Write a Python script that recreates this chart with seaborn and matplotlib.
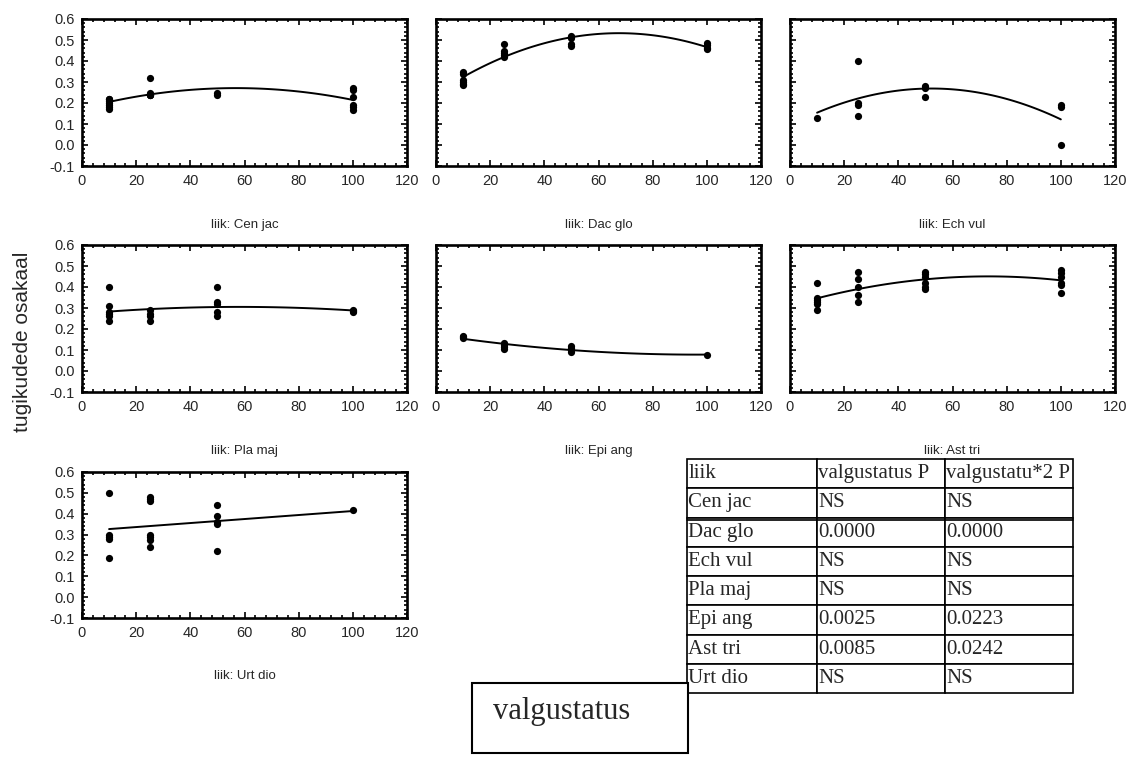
import numpy as np
import pandas as pd
import matplotlib
matplotlib.use("Agg")
import matplotlib.pyplot as plt
import seaborn as sns
from matplotlib.ticker import MultipleLocator, FormatStrFormatter
from matplotlib.patches import Rectangle

# ---------------- data ----------------
species = ["Cen jac", "Dac glo", "Ech vul", "Pla maj", "Epi ang", "Ast tri", "Urt dio"]
fit_order = [2, 2, 2, 2, 2, 2, 1]

cen_jac_x = [10, 10, 10, 10, 10, 10, 10, 25, 25, 25, 25, 25, 50, 50, 100, 100, 100, 100, 100, 100]
cen_jac_y = [0.22, 0.22, 0.21, 0.20, 0.19, 0.18, 0.17, 0.32, 0.25, 0.24, 0.24, 0.24, 0.25, 0.24, 0.27, 0.26, 0.23, 0.19, 0.18, 0.165]

dac_glo_x = [10, 10, 10, 10, 10, 10, 25, 25, 25, 25, 25, 50, 50, 50, 50, 100, 100, 100, 100]
dac_glo_y = [0.35, 0.34, 0.31, 0.30, 0.29, 0.285, 0.48, 0.45, 0.44, 0.43, 0.42, 0.52, 0.51, 0.48, 0.47, 0.485, 0.475, 0.46, 0.455]

ech_vul_x = [10, 25, 25, 25, 25, 50, 50, 50, 100, 100, 100]
ech_vul_y = [0.13, 0.40, 0.20, 0.19, 0.14, 0.28, 0.27, 0.23, 0.19, 0.18, 0.00]

pla_maj_x = [10, 10, 10, 10, 10, 10, 25, 25, 25, 25, 50, 50, 50, 50, 50, 100, 100, 100]
pla_maj_y = [0.40, 0.31, 0.28, 0.27, 0.26, 0.24, 0.29, 0.27, 0.26, 0.24, 0.40, 0.33, 0.32, 0.28, 0.26, 0.29, 0.285, 0.28]

epi_ang_x = [10, 10, 10, 25, 25, 25, 25, 50, 50, 50, 50, 100]
epi_ang_y = [0.165, 0.16, 0.155, 0.135, 0.125, 0.115, 0.105, 0.12, 0.11, 0.10, 0.09, 0.075]

ast_tri_x = [10, 10, 10, 10, 10, 10, 25, 25, 25, 25, 25, 50, 50, 50, 50, 50, 50, 100, 100, 100, 100, 100, 100]
ast_tri_y = [0.42, 0.35, 0.34, 0.33, 0.32, 0.29, 0.47, 0.44, 0.40, 0.36, 0.33, 0.47, 0.46, 0.45, 0.42, 0.40, 0.39, 0.48, 0.465, 0.45, 0.42, 0.41, 0.37]

urt_dio_x = [10, 10, 10, 10, 10, 25, 25, 25, 25, 25, 25, 25, 50, 50, 50, 50, 50, 100]
urt_dio_y = [0.50, 0.30, 0.29, 0.28, 0.19, 0.48, 0.47, 0.46, 0.30, 0.29, 0.275, 0.24, 0.44, 0.39, 0.36, 0.35, 0.22, 0.42]

x_values = [cen_jac_x, dac_glo_x, ech_vul_x, pla_maj_x, epi_ang_x, ast_tri_x, urt_dio_x]
y_values = [cen_jac_y, dac_glo_y, ech_vul_y, pla_maj_y, epi_ang_y, ast_tri_y, urt_dio_y]

y_axis_label = "tugikudede osakaal"
panel_prefix = "liik: "

table_header = ["liik", "valgustatus P", "valgustatu*2 P"]
p_linear = ["NS", "0.0000", "NS", "NS", "0.0025", "0.0085", "NS"]
p_quadratic = ["NS", "0.0000", "NS", "NS", "0.0223", "0.0242", "NS"]
box_label = "valgustatus"

# ---------------- style ----------------
sns.set_theme(style="ticks")
plt.rcParams["font.family"] = ["Liberation Sans", "DejaVu Sans"]
plt.rcParams["axes.unicode_minus"] = False

W, H = 1128, 758
fig = plt.figure(figsize=(W / 100, H / 100), dpi=100)

def fx(px):
    return px / W

def fy(py):
    return 1 - py / H

col_left = [82, 436, 790]
row_top_bottom = [(19, 166), (245, 392), (472, 618)]
ax_w = 325

positions = [(0, 0), (0, 1), (0, 2), (1, 0), (1, 1), (1, 2), (2, 0)]

for i, sp in enumerate(species):
    r, c = positions[i]
    top, bot = row_top_bottom[r]
    ax = fig.add_axes([fx(col_left[c]), fy(bot), fx(ax_w), (bot - top) / H])
    df = pd.DataFrame({"x": x_values[i], "y": y_values[i]})
    sns.regplot(data=df, x="x", y="y", order=fit_order[i], ci=None, ax=ax,
                scatter=False, truncate=True,
                line_kws=dict(color="black", lw=1.4))
    sns.scatterplot(data=df, x="x", y="y", ax=ax, color="black", s=27,
                    edgecolor="black", linewidth=0, zorder=3)
    ax.set_xlim(0, 120)
    ax.set_ylim(-0.1, 0.6)
    ax.xaxis.set_major_locator(MultipleLocator(20))
    ax.xaxis.set_minor_locator(MultipleLocator(4))
    ax.yaxis.set_major_locator(MultipleLocator(0.1))
    ax.yaxis.set_minor_locator(MultipleLocator(0.02))
    ax.yaxis.set_major_formatter(FormatStrFormatter("%.1f"))
    ax.tick_params(which="both", direction="in", top=True, right=True,
                   color="black", labelsize=10.5, width=1.2)
    ax.tick_params(which="major", length=4)
    ax.tick_params(which="minor", length=2.5)
    ax.tick_params(axis="x", which="major", pad=6)
    ax.tick_params(axis="y", which="major", pad=5)
    if c != 0:
        ax.tick_params(labelleft=False)
    for s in ax.spines.values():
        s.set_linewidth(1.9)
        s.set_color("black")
    ax.set_xlabel("")
    ax.set_ylabel("")
    ax.text(0.5, -0.40, panel_prefix + sp, transform=ax.transAxes,
            ha="center", va="center", fontsize=9.5)

fig.text(fx(23), fy(342), y_axis_label, rotation=90, ha="center", va="center",
         fontsize=15)

# ---------------- table ----------------
tab_l, tab_r, tab_t, tab_b = 687, 1073, 459, 693
tax = fig.add_axes([fx(tab_l), fy(tab_b), fx(tab_r - tab_l), (tab_b - tab_t) / H])
tax.axis("off")
cell_text = [[sp, a, b] for sp, a, b in zip(species, p_linear, p_quadratic)]
tbl = tax.table(cellText=cell_text, colLabels=table_header, loc="center",
                cellLoc="left", colLoc="left", bbox=[0, 0, 1, 1],
                colWidths=[130, 128, 128])
tbl.auto_set_font_size(False)
for (rr, cc), cell in tbl.get_celld().items():
    cell.set_edgecolor("black")
    cell.set_linewidth(1.2)
    cell.PAD = 0.01
    cell.get_text().set_fontfamily(["Liberation Serif", "DejaVu Serif"])
    cell.get_text().set_fontsize(15)
# double rule below "Cen jac" row
row_h = 1 / 8
tax.plot([0, 1], [1 - 2 * row_h - 0.012, 1 - 2 * row_h - 0.012], color="black",
         lw=1.2, transform=tax.transAxes, clip_on=False)

# ---------------- "valgustatus" box ----------------
fig.add_artist(Rectangle((fx(472), fy(753)), fx(688 - 472), (753 - 683) / H,
                         transform=fig.transFigure, facecolor="white",
                         edgecolor="black", lw=1.5, zorder=5))
fig.text(fx(493), fy(712), box_label, ha="left", va="center", fontsize=22,
         family=["Liberation Serif", "DejaVu Serif"], zorder=6)

fig.savefig("out.png", dpi=100)
